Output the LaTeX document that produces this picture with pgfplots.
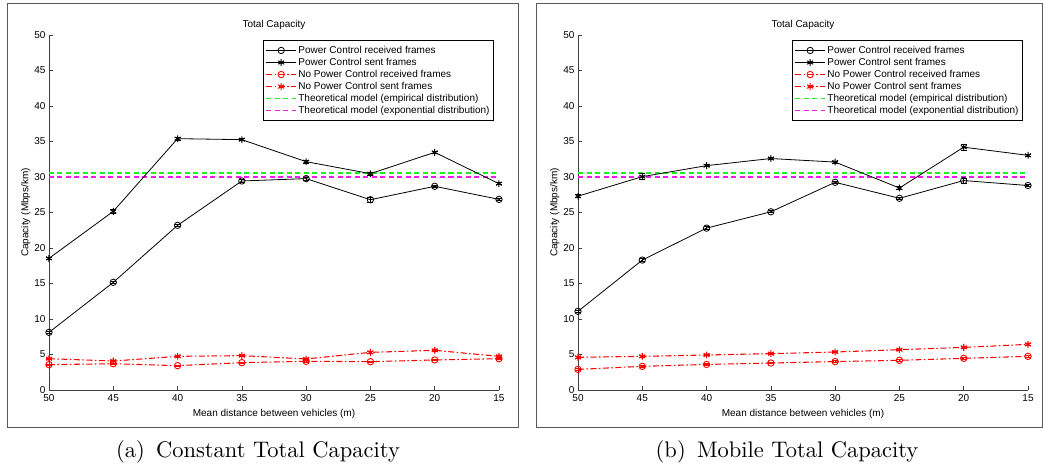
\documentclass[border=0pt]{standalone}
\usepackage{pgfplots}
\pgfplotsset{compat=1.18}
\usepackage{fontspec}
\setsansfont{Liberation Sans}
\newfontfamily\capfont{lmroman10-regular}[Extension=.otf]
\usetikzlibrary{plotmarks}

\definecolor{matgreen}{rgb}{0.1,0.95,0.1}
\definecolor{matmag}{rgb}{0.95,0.1,0.95}
\definecolor{matred}{rgb}{1,0,0}
\definecolor{framegray}{rgb}{0.35,0.35,0.35}

\pgfplotsset{
  capax/.style={
    scale only axis, width=450pt, height=355pt,
    xmin=15, xmax=50, x dir=reverse, ymin=0, ymax=50,
    xtick={15,20,...,50}, ytick={0,5,...,50},
    axis x line*=bottom, axis y line*=left,
    axis line style={black!75, line width=0.8pt},
    every tick/.style={black!75, line width=0.6pt},
    tick align=inside, major tick length=4pt,
    font=\sffamily\fontsize{10}{11}\selectfont,
    /pgf/number format/assume math mode=true,
    xticklabel style={yshift=-1pt},
    title={Total Capacity},
    title style={yshift=-4pt},
    xlabel={Mean distance between vehicles (m)},
    ylabel={Capacity (Mbps/km)},
    xlabel style={yshift=-1pt},
    ylabel style={yshift=-3pt},
    legend cell align=left,
    legend style={at={(1,1)}, anchor=north east, xshift=-5pt, yshift=-5pt,
      draw=black, line width=0.8pt, font=\sffamily\fontsize{10}{11}\selectfont,
      inner xsep=2.5pt, inner ysep=4.2pt, row sep=0.3pt,
      nodes={inner sep=1.5pt}},
    legend image code/.code={\draw[mark repeat=2, mark phase=2, ##1]
      plot coordinates {(0pt,0pt) (15pt,0pt) (30pt,0pt)};},
    clip=false,
  },
  pcr/.style={color=black, line width=0.8pt, mark=o, mark size=3.2pt, mark options={solid, line width=0.8pt},
    error bars/.cd, y dir=both, y explicit, error bar style={line width=0.8pt, solid},
    error mark options={rotate=90, mark size=3pt, line width=0.8pt}},
  pcs/.style={color=black, line width=0.8pt, mark=asterisk, mark size=3.4pt, mark options={solid, line width=1pt},
    error bars/.cd, y dir=both, y explicit, error bar style={line width=0.8pt, solid},
    error mark options={rotate=90, mark size=3pt, line width=0.8pt}},
  npr/.style={color=matred, line width=1.05pt, dash pattern=on 6pt off 2.5pt on 1.5pt off 2.5pt, mark=o, mark size=3.2pt, mark options={solid, line width=0.9pt},
    error bars/.cd, y dir=both, y explicit, error bar style={line width=0.8pt, solid},
    error mark options={rotate=90, mark size=3pt, line width=0.8pt}},
  nps/.style={color=matred, line width=1.05pt, dash pattern=on 6pt off 2.5pt on 1.5pt off 2.5pt, mark=asterisk, mark size=3.4pt, mark options={solid, line width=1.1pt},
    error bars/.cd, y dir=both, y explicit, error bar style={line width=0.8pt, solid},
    error mark options={rotate=90, mark size=3pt, line width=0.8pt}},
  thg/.style={color=matgreen, line width=1.4pt, dash pattern=on 5pt off 3.5pt},
  thm/.style={color=matmag, line width=1.4pt, dash pattern=on 5pt off 3.5pt},
}

\begin{document}
\begin{tikzpicture}[x=1pt,y=1pt]
\useasboundingbox (0,0) rectangle (1043,468);
% frames
\draw[framegray, line width=1pt] (7,40) rectangle (518,464);
\draw[framegray, line width=1pt] (536,40) rectangle (1042,464);

\begin{axis}[capax, at={(49pt,78pt)}, anchor=south west]
\addplot[thg, forget plot] coordinates {(50,30.56) (15,30.56)};
\addplot[thm, forget plot] coordinates {(50,30.0) (15,30.0)};
\addplot[pcr] coordinates {
 (50,8.12) +- (0,0.15) (45,15.16) +- (0,0.2) (40,23.19) +- (0,0.2) (35,29.44) +- (0,0.2)
 (30,29.77) +- (0,0.2) (25,26.8) +- (0,0.35) (20,28.69) +- (0,0.15) (15,26.85) +- (0,0.15)};
\addlegendentry{Power Control received frames}
\addplot[pcs] coordinates {
 (50,18.54) +- (0,0.15) (45,25.16) +- (0,0.3) (40,35.4) +- (0,0.2) (35,35.26) +- (0,0.15)
 (30,32.16) +- (0,0.2) (25,30.47) +- (0,0.2) (20,33.47) +- (0,0.2) (15,29.06) +- (0,0.15)};
\addlegendentry{Power Control sent frames}
\addplot[npr] coordinates {
 (50,3.57) +- (0,0.1) (45,3.7) +- (0,0.1) (40,3.43) +- (0,0.1) (35,3.85) +- (0,0.1)
 (30,4.04) +- (0,0.1) (25,3.99) +- (0,0.1) (20,4.23) +- (0,0.1) (15,4.41) +- (0,0.1)};
\addlegendentry{No Power Control received frames}
\addplot[nps] coordinates {
 (50,4.41) +- (0,0.1) (45,4.08) +- (0,0.1) (40,4.74) +- (0,0.1) (35,4.84) +- (0,0.1)
 (30,4.37) +- (0,0.1) (25,5.3) +- (0,0.1) (20,5.59) +- (0,0.1) (15,4.74) +- (0,0.1)};
\addlegendentry{No Power Control sent frames}
\addlegendimage{thg}
\addlegendentry{Theoretical model (empirical distribution)}
\addlegendimage{thm}
\addlegendentry{Theoretical model (exponential distribution)}
\end{axis}

\begin{axis}[capax, at={(578pt,78pt)}, anchor=south west]
\addplot[thg, forget plot] coordinates {(50,30.56) (15,30.56)};
\addplot[thm, forget plot] coordinates {(50,30.0) (15,30.0)};
\addplot[pcr] coordinates {
 (50,11.08) +- (0,0.2) (45,18.3) +- (0,0.2) (40,22.8) +- (0,0.2) (35,25.1) +- (0,0.15)
 (30,29.25) +- (0,0.2) (25,27.0) +- (0,0.15) (20,29.5) +- (0,0.35) (15,28.8) +- (0,0.15)};
\addlegendentry{Power Control received frames}
\addplot[pcs] coordinates {
 (50,27.3) +- (0,0.2) (45,30.05) +- (0,0.45) (40,31.6) +- (0,0.15) (35,32.6) +- (0,0.15)
 (30,32.1) +- (0,0.15) (25,28.45) +- (0,0.2) (20,34.2) +- (0,0.45) (15,33.05) +- (0,0.15)};
\addlegendentry{Power Control sent frames}
\addplot[npr] coordinates {
 (50,2.9) +- (0,0.1) (45,3.33) +- (0,0.1) (40,3.6) +- (0,0.1) (35,3.8) +- (0,0.1)
 (30,4.0) +- (0,0.1) (25,4.18) +- (0,0.1) (20,4.46) +- (0,0.1) (15,4.74) +- (0,0.1)};
\addlegendentry{No Power Control received frames}
\addplot[nps] coordinates {
 (50,4.6) +- (0,0.1) (45,4.74) +- (0,0.1) (40,4.93) +- (0,0.1) (35,5.12) +- (0,0.1)
 (30,5.35) +- (0,0.1) (25,5.68) +- (0,0.1) (20,6.0) +- (0,0.1) (15,6.43) +- (0,0.1)};
\addlegendentry{No Power Control sent frames}
\addlegendimage{thg}
\addlegendentry{Theoretical model (empirical distribution)}
\addlegendimage{thm}
\addlegendentry{Theoretical model (exponential distribution)}
\end{axis}

\node[font=\capfont\fontsize{22.5}{27}\selectfont] at (258,16) {(a)\hspace{0.5em}Constant Total Capacity};
\node[font=\capfont\fontsize{22.5}{27}\selectfont] at (787,16) {(b)\hspace{0.5em}Mobile Total Capacity};
\end{tikzpicture}
\end{document}
